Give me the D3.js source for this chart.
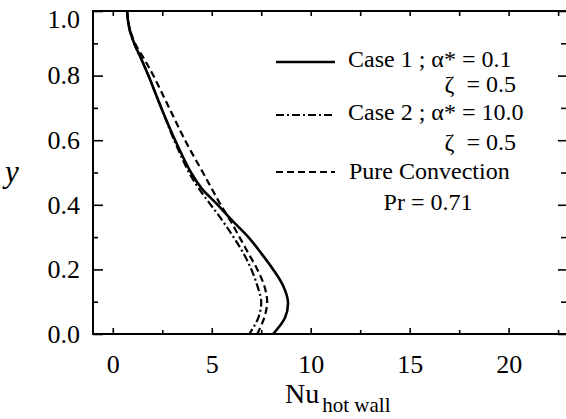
<!DOCTYPE html>
<meta charset="utf-8">
<style>
body { margin: 0; background: #fff; }
text { font-family: "Liberation Serif", "Times New Roman", serif; fill: #000; }
.tick line { stroke: #000; stroke-width: 1.6; }
.axis path.domain { display: none; }
.curve { fill: none; stroke: #000; }
</style>
<body>
<script src="https://cdn.jsdelivr.net/npm/d3@7"></script>
<script>
// y positions along the wall (shared by all curves)
var yVals = [1.0, 0.95, 0.9, 0.85, 0.8, 0.7, 0.6, 0.5, 0.45, 0.4, 0.35, 0.3, 0.25, 0.2, 0.15, 0.1, 0.05, 0.0];
// Nu on the hot wall
var case1 = [0.72, 0.82, 1.08, 1.45, 1.8, 2.45, 3.15, 3.95, 4.5, 5.3, 6.05, 6.85, 7.5, 8.1, 8.6, 8.85, 8.7, 8.1];
var case2 = [0.72, 0.82, 1.08, 1.45, 1.8, 2.45, 3.1, 3.85, 4.35, 4.95, 5.55, 6.1, 6.6, 7.0, 7.3, 7.5, 7.35, 6.9];
var pureConv = [0.72, 0.84, 1.12, 1.6, 2.05, 2.85, 3.65, 4.55, 5.0, 5.45, 5.95, 6.4, 6.85, 7.3, 7.65, 7.8, 7.65, 7.3];

var xTicks = [0, 5, 10, 15, 20];
var xMinor = [2.5, 7.5, 12.5, 17.5, 22.5];
var yTicks = [0, 0.2, 0.4, 0.6, 0.8, 1.0];
var yMinor = [0.1, 0.3, 0.5, 0.7, 0.9];

var width = 566, height = 419;
var plot = {left: 93, right: 568, top: 11, bottom: 334};

var svg = d3.select("body").append("svg")
    .attr("width", width)
    .attr("height", height);

var x = d3.scaleLinear().domain([-1, 23]).range([plot.left, plot.right]);
var y = d3.scaleLinear().domain([0, 1]).range([plot.bottom, plot.top]);

// left axis (ticks point inward)
svg.append("g").attr("class", "axis")
    .attr("transform", "translate(" + plot.left + ",0)")
    .call(d3.axisLeft(y).tickValues(yTicks).tickSize(-10).tickPadding(13).tickFormat(d3.format(".1f")))
    .selectAll("text")
      .style("font-size", "26px")
      .attr("dy", function(d) { return d === 1 ? "0.64em" : "0.32em"; }); // keep top label inside
svg.append("g").attr("class", "axis")
    .attr("transform", "translate(" + plot.left + ",0)")
    .call(d3.axisLeft(y).tickValues(yMinor).tickSize(-5).tickFormat(""));

// right axis
svg.append("g").attr("class", "axis")
    .attr("transform", "translate(" + plot.right + ",0)")
    .call(d3.axisRight(y).tickValues(yTicks).tickSize(-10).tickFormat(""));
svg.append("g").attr("class", "axis")
    .attr("transform", "translate(" + plot.right + ",0)")
    .call(d3.axisRight(y).tickValues(yMinor).tickSize(-7).tickFormat(""));

// bottom axis
svg.append("g").attr("class", "axis")
    .attr("transform", "translate(0," + plot.bottom + ")")
    .call(d3.axisBottom(x).tickValues(xTicks).tickSize(-6).tickPadding(21))
    .selectAll("text").style("font-size", "26px");
svg.append("g").attr("class", "axis")
    .attr("transform", "translate(0," + plot.bottom + ")")
    .call(d3.axisBottom(x).tickValues(xMinor).tickSize(-4).tickFormat(""));

// top axis
svg.append("g").attr("class", "axis")
    .attr("transform", "translate(0," + plot.top + ")")
    .call(d3.axisTop(x).tickValues(xTicks.concat(xMinor)).tickSize(-5).tickFormat(""));

// frame
svg.append("rect")
    .attr("x", plot.left).attr("y", plot.top)
    .attr("width", plot.right - plot.left).attr("height", plot.bottom - plot.top)
    .attr("fill", "none").attr("stroke", "#000").attr("stroke-width", 2);

// curves
var series = [
  {vals: case1, dash: null, w: 2.6},
  {vals: case2, dash: "8,3,2,3", w: 2.2},
  {vals: pureConv, dash: "7,4", w: 2.2}
];

var line = d3.line()
    .x(function(d) { return x(d[0]); })
    .y(function(d) { return y(d[1]); })
    .curve(d3.curveCatmullRom);

series.forEach(function(s) {
  var pts = s.vals.map(function(v, i) { return [v, yVals[i]]; });
  svg.append("path")
      .attr("class", "curve")
      .attr("d", line(pts))
      .attr("stroke-width", s.w)
      .attr("stroke-dasharray", s.dash);
});

// legend
var legend = svg.append("g").style("font-size", "24px");
var legLines = [
  {y: 62, dash: null, w: 2.6},
  {y: 115, dash: "8,3,2,3", w: 2},
  {y: 172, dash: "7,4", w: 2}
];
legLines.forEach(function(l) {
  legend.append("line")
      .attr("x1", 276).attr("x2", 335)
      .attr("y1", l.y).attr("y2", l.y)
      .attr("stroke", "#000")
      .attr("stroke-width", l.w)
      .attr("stroke-dasharray", l.dash);
});
legend.append("text").attr("x", 348).attr("y", 67).text("Case 1 ; \u03b1* = 0.1");
legend.append("text").attr("x", 516).attr("y", 92).attr("text-anchor", "end")
    .style("white-space", "pre").text("\u03b6  = 0.5");
legend.append("text").attr("x", 348).attr("y", 120).text("Case 2 ; \u03b1* = 10.0");
legend.append("text").attr("x", 516).attr("y", 150).attr("text-anchor", "end")
    .style("white-space", "pre").text("\u03b6  = 0.5");
legend.append("text").attr("x", 349).attr("y", 179).text("Pure Convection");
legend.append("text").attr("x", 428).attr("y", 210).attr("text-anchor", "middle").text("Pr = 0.71");

// axis titles
var xt = svg.append("text").attr("x", 285).attr("y", 403).style("font-size", "28px");
xt.append("tspan").text("Nu");
xt.append("tspan").attr("dx", 3).attr("dy", 9).style("font-size", "21px").text("hot wall");

svg.append("text")
    .attr("x", 5).attr("y", 182)
    .style("font-size", "31px")
    .style("font-style", "italic")
    .text("y");
</script>
</body>
